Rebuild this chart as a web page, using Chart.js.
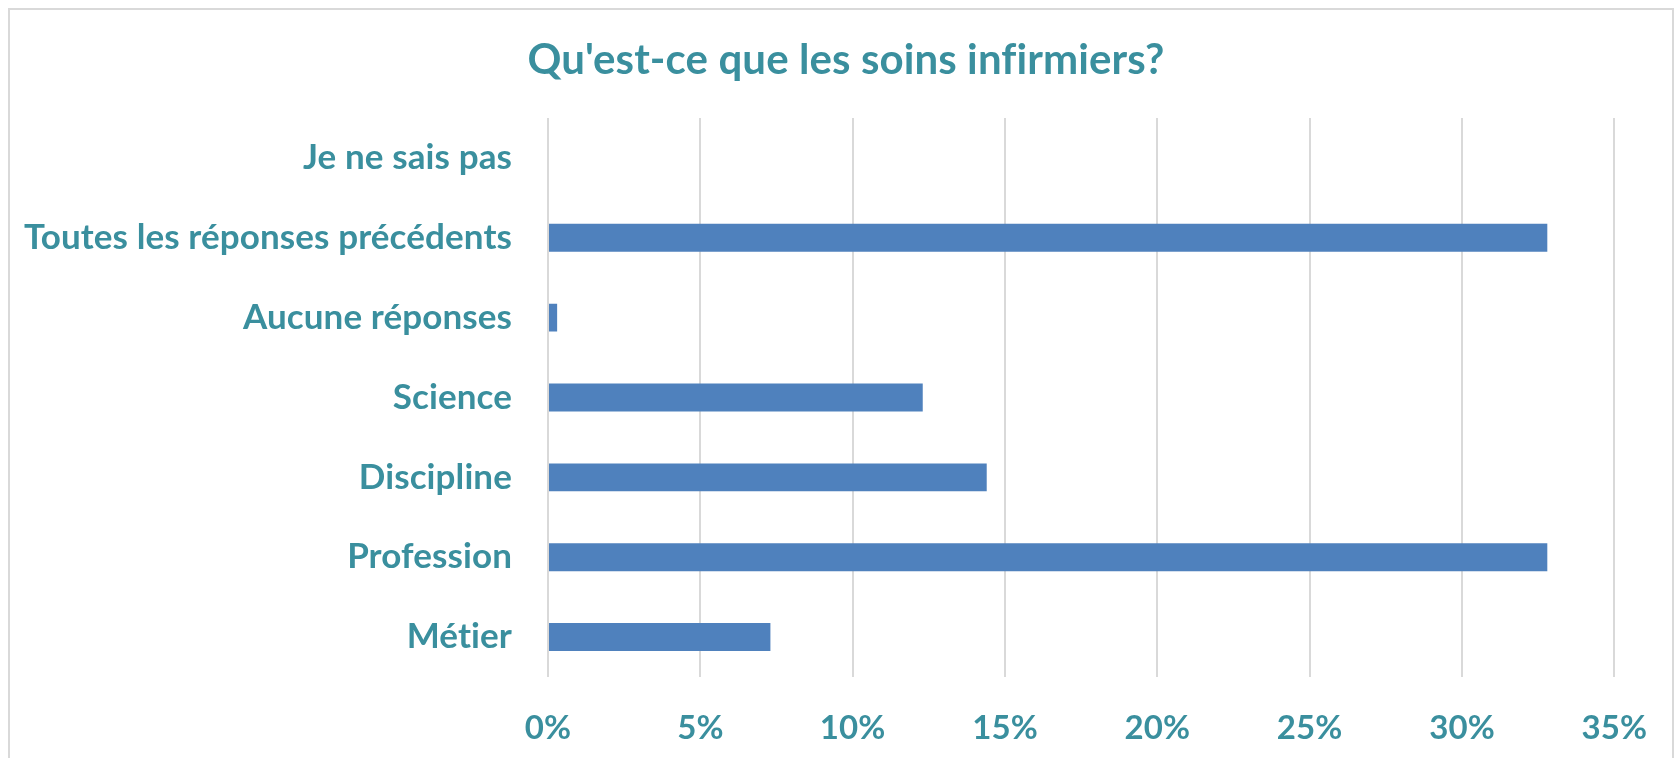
<!DOCTYPE html>
<html>
<head>
<meta charset="utf-8">
<script src="https://cdn.jsdelivr.net/npm/chart.js@4"></script>
<style>
  html, body { margin: 0; padding: 0; background: #fff; }
  #wrap { position: relative; width: 1679px; height: 758px; overflow: hidden; }
  #frame { position: absolute; left: 8px; top: 8px; width: 1662px; height: 800px;
           border: 2px solid #d9d9d9; pointer-events: none; }
</style>
</head>
<body>
<div id="wrap">
  <canvas id="chart" width="1679" height="758"></canvas>
  <div id="frame"></div>
</div>
<script>
// Qu'est-ce que les soins infirmiers? - horizontal bar chart
const categories = [
  'Je ne sais pas',
  'Toutes les réponses précédents',
  'Aucune réponses',
  'Science',
  'Discipline',
  'Profession',
  'Métier'
];
const percents = [0, 32.8, 0.3, 12.3, 14.4, 32.8, 7.3];
const xTicks = [0, 5, 10, 15, 20, 25, 30, 35];
const chartTitle = "Qu'est-ce que les soins infirmiers?";

const TEAL = '#3a8f9e';
const BAR = '#4f81bd';
const FONT = 'Lato, "Open Sans", sans-serif';

const ctx = document.getElementById('chart').getContext('2d');

new Chart(ctx, {
  type: 'bar',
  data: {
    labels: categories,
    datasets: [{
      data: percents,
      backgroundColor: BAR,
      borderWidth: 0,
      barPercentage: 0.7,
      categoryPercentage: 0.5
    }]
  },
  options: {
    indexAxis: 'y',
    responsive: false,
    animation: false,
    layout: { padding: { left: 8, right: 62, top: 118, bottom: 0 } },
    plugins: {
      legend: { display: false },
      tooltip: { enabled: false },
      title: { display: false }
    },
    scales: {
      x: {
        min: 0,
        max: 35,
        afterBuildTicks(scale) {
          scale.ticks = xTicks.map(v => ({ value: v }));
        },
        afterFit(scale) { scale.height = 81; },
        grid: { color: '#d9d9d9', lineWidth: 2, drawTicks: false },
        border: { display: false },
        ticks: {
          color: TEAL,
          font: { family: FONT, size: 33, weight: 'bold' },
          padding: 32,
          callback: v => v + '%'
        }
      },
      y: {
        afterFit(scale) { scale.width = 540; },
        grid: { display: false, drawTicks: false },
        border: { display: false },
        ticks: {
          color: TEAL,
          font: { family: FONT, size: 35, weight: 'bold' },
          padding: 36
        }
      }
    }
  },
  plugins: [{
    // tiny letter spacing stops Lato's "ti"/"fi" ligatures
    id: 'noLigatures',
    beforeDraw(chart) { chart.ctx.letterSpacing = '0.1px'; }
  }, {
    // title centred over the whole frame (Chart.js title would centre on padded box)
    id: 'frameTitle',
    afterDraw(chart) {
      const c = chart.ctx;
      c.save();
      c.fillStyle = TEAL;
      c.font = 'bold 42px ' + FONT;
      c.textAlign = 'center';
      c.textBaseline = 'middle';
      c.fillText(chartTitle, 846, 60);
      c.restore();
    }
  }]
});
</script>
</body>
</html>
